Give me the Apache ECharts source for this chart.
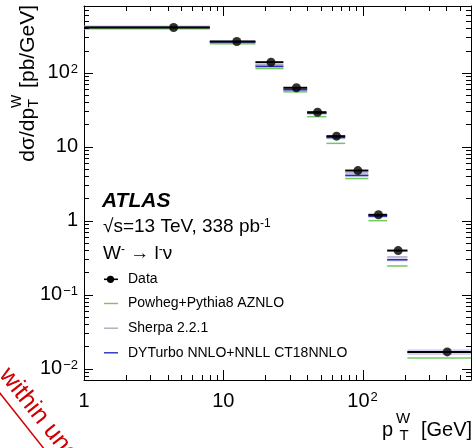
<!DOCTYPE html>
<html><head><meta charset="utf-8">
<script src="https://cdn.jsdelivr.net/npm/echarts@6/dist/echarts.min.js"></script>
<style>html,body{margin:0;padding:0;background:#fff}#c{width:474px;height:448px}</style>
</head><body><div id="c"></div>
<script>
// ---- data ----
const binLow = [0, 8, 17, 27, 40, 55, 75, 110, 150, 210];
const binHigh = [8, 17, 27, 40, 55, 75, 110, 150, 210, 600];
const binCenter = [4.4, 12.5, 22, 33.5, 47.5, 65, 92.5, 130, 180, 405];
const dataValues = [410, 265, 139, 62.7, 29.3, 13.9, 4.76, 1.20, 0.394, 0.0168];
const powhegValues = [394, 246, 114, 55.2, 25.5, 11.1, 3.71, 1.00, 0.244, 0.0139];
const sherpaValues = [422, 265, 128, 60.2, 29.0, 13.6, 4.43, 1.18, 0.323, 0.0168];
const dyturboValues = [410, 260, 122, 58.9, 28.4, 13.3, 4.09, 1.15, 0.296, 0.0166];
const dyturboBandLow = [388, 246, 115, 55.8, 26.9, 12.6, 3.87, 1.09, 0.280, 0.0152];
const dyturboBandHigh = [432, 274, 129, 62.0, 29.9, 14.0, 4.31, 1.21, 0.312, 0.0182];
const legendLabels = ['Data', 'Powheg+Pythia8 AZNLO', 'Sherpa 2.2.1', 'DYTurbo NNLO+NNLL CT18NNLO'];
const xMajorTicks = [1, 10, 100];
const yMajorTicks = [0.01, 0.1, 1, 10, 100];

const X_MIN = 1, X_MAX = 600, Y_MIN = 0.007, Y_MAX = 800;
const FONT = '"Liberation Sans", Arial, Helvetica, sans-serif';
const C_GREEN = '#72c860', C_GREY = '#aaaabb', C_BLUE = '#2b2bbb', C_BAND = '#d4d4f2';

// minor tick positions (axis decoration)
const xMinor = [], yMinor = [];
for (let d = 0; d <= 2; d++) for (let m = 2; m <= 9; m++) { const v = m * Math.pow(10, d); if (v > X_MIN && v < X_MAX) xMinor.push(v); }
for (let d = -3; d <= 2; d++) for (let m = 2; m <= 9; m++) { const v = m * Math.pow(10, d); if (v > Y_MIN && v < Y_MAX) yMinor.push(v); }

const supRich = { s: { fontSize: 13, fontFamily: FONT, color: '#000', verticalAlign: 'top', lineHeight: 12, padding: [0, 0, 0, 1] } };
function xFmt(v) {
  const e = Math.round(Math.log10(v));
  if (e === 0) return '1';
  if (e === 1) return '10';
  return '10{s|' + e + '}';
}
function yFmt(v) {
  const e = Math.round(Math.log10(v));
  if (e === 0) return '1';
  if (e === 1) return '10';
  return '10{s|' + (e < 0 ? '\u2212' + (-e) : e) + '}';
}

function segSeries(name, values, color, width) {
  return {
    type: 'custom', name, silent: true,
    data: values.map((v, i) => [Math.max(binLow[i], X_MIN), binHigh[i], v]),
    encode: { x: [0, 1], y: 2 },
    renderItem(params, api) {
      const p1 = api.coord([api.value(0), api.value(2)]);
      const p2 = api.coord([api.value(1), api.value(2)]);
      return { type: 'line', shape: { x1: p1[0], y1: p1[1], x2: p2[0], y2: p2[1] }, style: { stroke: color, lineWidth: width } };
    }
  };
}

const bandSeries = {
  type: 'custom', name: 'band', silent: true,
  data: dyturboBandLow.map((v, i) => [Math.max(binLow[i], X_MIN), binHigh[i], v, dyturboBandHigh[i]]),
  encode: { x: [0, 1], y: [2, 3] },
  renderItem(params, api) {
    const a = api.coord([api.value(0), api.value(3)]);
    const b = api.coord([api.value(1), api.value(2)]);
    return { type: 'rect', shape: { x: a[0], y: a[1], width: b[0] - a[0], height: b[1] - a[1] }, style: { fill: C_BAND } };
  }
};

// text measuring for the rotated y title
const mctx = document.createElement('canvas').getContext('2d');
function tw(t, size) { mctx.font = size + 'px ' + FONT; return mctx.measureText(t).width; }

const tStyle = (extra) => Object.assign({ fill: '#000', align: 'left', verticalAlign: 'middle' }, extra);
const graphics = [];

// y-axis title (rotated, ending at the top)
(function () {
  const mainSize = 21, smallSize = 14;
  const wA = tw('d\u03c3/dp', mainSize), wS = Math.max(tw('W', smallSize), tw('T', smallSize)) + 1, wB = tw(' [pb/GeV]', mainSize);
  const sx = -(wA + wS + wB);
  graphics.push({ type: 'group', x: 28, y: 5, rotation: Math.PI / 2, children: [
    { type: 'text', x: sx, y: 0, style: tStyle({ text: 'd\u03c3/dp', font: mainSize + 'px ' + FONT }) },
    { type: 'text', x: sx + wA, y: -11, style: tStyle({ text: 'W', font: smallSize + 'px ' + FONT }) },
    { type: 'text', x: sx + wA + 0.5, y: 6, style: tStyle({ text: 'T', font: smallSize + 'px ' + FONT }) },
    { type: 'text', x: sx + wA + wS, y: 0, style: tStyle({ text: ' [pb/GeV]', font: mainSize + 'px ' + FONT }) }
  ] });
})();

// x-axis title
graphics.push(
  { type: 'text', x: 382, y: 430, style: tStyle({ text: 'p', font: '20px ' + FONT }) },
  { type: 'text', x: 396, y: 418.5, style: tStyle({ text: 'W', font: '15px ' + FONT }) },
  { type: 'text', x: 399.5, y: 436, style: tStyle({ text: 'T', font: '15px ' + FONT }) },
  { type: 'text', x: 421, y: 430, style: tStyle({ text: '[GeV]', font: '20px ' + FONT }) }
);

// ATLAS labels
const smallSup = { s: { fontSize: 12, fontFamily: FONT, verticalAlign: 'top', lineHeight: 11 } };
graphics.push(
  { type: 'text', x: 102, y: 201.5, style: tStyle({ text: 'ATLAS', font: 'italic bold 21px ' + FONT }) },
  { type: 'text', x: 103, y: 227, style: tStyle({ text: '\u221as=13 TeV, 338 pb{s|-1}', font: '19px ' + FONT, rich: smallSup }) },
  { type: 'text', x: 103, y: 253.5, style: tStyle({ text: 'W{s|-} \u2192 l{s|-}\u03bd', font: '19px ' + FONT, rich: smallSup }) }
);

// legend
const legY = [279.3, 303.5, 328.2, 352.8];
const legCol = ['#000', C_GREEN, C_GREY, C_BLUE];
legendLabels.forEach((lab, i) => {
  graphics.push({ type: 'line', shape: { x1: 104, y1: legY[i], x2: 118, y2: legY[i] }, style: { stroke: legCol[i], lineWidth: i === 0 ? 1.6 : 1.4 } });
  graphics.push({ type: 'text', x: 128, y: legY[i], style: tStyle({ text: lab, font: '14px ' + FONT }) });
});
graphics.push({ type: 'circle', shape: { cx: 110.5, cy: legY[0], r: 3.6 }, style: { fill: '#000' } });

// red stamp fragment (bottom-left)
graphics.push({ type: 'group', x: 4, y: 371, rotation: -0.9, children: [
  { type: 'text', x: 0, y: 0, style: { text: 'within unc', fill: '#d00000', font: '25px ' + FONT, align: 'left', verticalAlign: 'middle' } },
  { type: 'line', shape: { x1: -40, y1: 17, x2: 200, y2: 17 }, style: { stroke: '#d00000', lineWidth: 1.5 } }
] });

const axisCommon = {
  type: 'log', logBase: 10,
  axisLine: { show: true, onZero: false, lineStyle: { color: '#000', width: 1 } },
  axisTick: { show: false },
  splitLine: { show: false }, minorTick: { show: false }, minorSplitLine: { show: false }
};

const option = {
  animation: false,
  grid: { left: 84, right: 3, top: 6, bottom: 68, containLabel: false, outerBoundsMode: 'none' },
  xAxis: [
    Object.assign({}, axisCommon, { min: X_MIN, max: X_MAX, position: 'bottom',
      axisLabel: { show: true, margin: 11, showMaxLabel: false, fontSize: 20, fontFamily: FONT, color: '#000', formatter: xFmt, rich: supRich } }),
    Object.assign({}, axisCommon, { min: X_MIN, max: X_MAX, position: 'top', axisLabel: { show: false } })
  ],
  yAxis: [
    Object.assign({}, axisCommon, { min: Y_MIN, max: Y_MAX, position: 'left',
      axisLabel: { show: true, margin: 6, showMinLabel: false, showMaxLabel: false, fontSize: 20, fontFamily: FONT, color: '#000', formatter: yFmt, rich: supRich } }),
    Object.assign({}, axisCommon, { min: Y_MIN, max: Y_MAX, position: 'right', axisLabel: { show: false } })
  ],
  series: [
    bandSeries,
    segSeries('Sherpa 2.2.1', sherpaValues, C_GREY, 1.5),
    segSeries('DYTurbo', dyturboValues, C_BLUE, 1.5),
    segSeries('Powheg', powhegValues, C_GREEN, 1.5),
    segSeries('Data bars', dataValues, '#000', 2),
    { type: 'scatter', name: 'Data', data: dataValues.map((v, i) => [binCenter[i], v]), symbol: 'circle', symbolSize: 9,
      itemStyle: { color: '#000' }, silent: true, z: 5 }
  ]
};
const chart = echarts.init(document.getElementById('c'));
chart.setOption(option);

// ticks on all four sides, positioned through the axes' own scales
const px = v => chart.convertToPixel({ xAxisIndex: 0 }, v);
const py = v => chart.convertToPixel({ yAxisIndex: 0 }, v);
const xL = px(X_MIN), xR = px(X_MAX), yB = py(Y_MIN), yT = py(Y_MAX);
const tickLine = (x1, y1, x2, y2) => ({ type: 'line', z: 50, silent: true, shape: { x1, y1, x2, y2 }, style: { stroke: '#000', lineWidth: 1 } });
function addXTicks(vals, len) {
  vals.forEach(v => { const x = Math.round(px(v)) + 0.5; graphics.push(tickLine(x, yB, x, yB - len), tickLine(x, yT, x, yT + len)); });
}
function addYTicks(vals, len) {
  vals.forEach(v => { const y = Math.round(py(v)) + 0.5; graphics.push(tickLine(xL, y, xL + len, y), tickLine(xR, y, xR - len, y)); });
}
addXTicks(xMajorTicks, 10); addXTicks(xMinor, 5);
addYTicks(yMajorTicks, 9); addYTicks(yMinor, 5);

chart.setOption({ graphic: graphics });
</script></body></html>
